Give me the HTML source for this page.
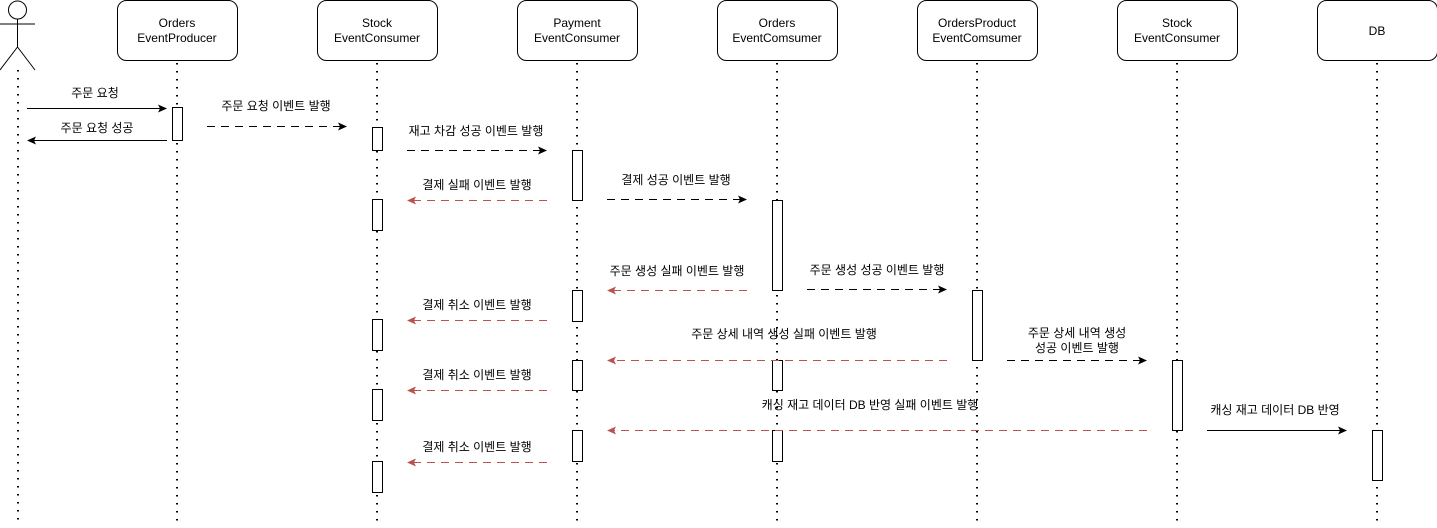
<!DOCTYPE html>
<html><head><meta charset="utf-8"><style>
html,body{margin:0;padding:0;background:#fff;}
svg text{font-family:"Liberation Sans","Noto Sans CJK KR",sans-serif;font-size:12px;fill:#000;text-anchor:middle;}
</style></head><body>
<svg width="1437" height="523" viewBox="0 0 1437 523" xmlns="http://www.w3.org/2000/svg">
<defs>
<marker id="ab" markerWidth="10" markerHeight="10" refX="8" refY="4" orient="auto" markerUnits="userSpaceOnUse"><path d="M0,0 L9,4 L0,8 L2,4 Z" fill="#000"/></marker>
<marker id="ar" markerWidth="10" markerHeight="10" refX="8" refY="4" orient="auto" markerUnits="userSpaceOnUse"><path d="M0,0 L9,4 L0,8 L2,4 Z" fill="#b85450"/></marker>
</defs>
<g stroke="#000" fill="none" stroke-width="1">
<circle cx="17.5" cy="10" r="9"/>
<line x1="17.5" y1="19" x2="17.5" y2="47"/>
<line x1="0" y1="24" x2="35" y2="24"/>
<line x1="17.5" y1="47" x2="0" y2="70"/>
<line x1="17.5" y1="47" x2="35" y2="70"/>
</g>
<g stroke="#000" stroke-width="2" stroke-dasharray="1.5 6.5">
<line x1="18" y1="70" x2="18" y2="523"/>
<line x1="177" y1="63" x2="177" y2="523"/>
<line x1="377" y1="63" x2="377" y2="523"/>
<line x1="577" y1="63" x2="577" y2="523"/>
<line x1="777" y1="63" x2="777" y2="523"/>
<line x1="977" y1="63" x2="977" y2="523"/>
<line x1="1177" y1="63" x2="1177" y2="523"/>
<line x1="1377" y1="63" x2="1377" y2="523"/>
</g>
<g stroke="#000" fill="#fff">
<rect x="117.5" y="0.5" width="120" height="60" rx="9"/>
<rect x="317.5" y="0.5" width="120" height="60" rx="9"/>
<rect x="517.5" y="0.5" width="120" height="60" rx="9"/>
<rect x="717.5" y="0.5" width="120" height="60" rx="9"/>
<rect x="917.5" y="0.5" width="120" height="60" rx="9"/>
<rect x="1117.5" y="0.5" width="120" height="60" rx="9"/>
<rect x="1317.5" y="0.5" width="120" height="60" rx="9"/>
</g>
<text x="177" y="27">Orders</text><text x="177" y="42">EventProducer</text>
<text x="377" y="27">Stock</text><text x="377" y="42">EventConsumer</text>
<text x="577" y="27">Payment</text><text x="577" y="42">EventConsumer</text>
<text x="777" y="27">Orders</text><text x="777" y="42">EventComsumer</text>
<text x="977" y="27">OrdersProduct</text><text x="977" y="42">EventComsumer</text>
<text x="1177" y="27">Stock</text><text x="1177" y="42">EventConsumer</text>
<text x="1377" y="35">DB</text>
<g stroke="#000" fill="#fff">
<rect x="172.5" y="107.5" width="10" height="33"/>
<rect x="372.5" y="127.5" width="10" height="23"/>
<rect x="372.5" y="199.5" width="10" height="31"/>
<rect x="372.5" y="319.5" width="10" height="31"/>
<rect x="372.5" y="389.5" width="10" height="31"/>
<rect x="372.5" y="461.5" width="10" height="31"/>
<rect x="572.5" y="150.5" width="10" height="50"/>
<rect x="572.5" y="290.5" width="10" height="31"/>
<rect x="572.5" y="360.5" width="10" height="30"/>
<rect x="572.5" y="430.5" width="10" height="31"/>
<rect x="772.5" y="200.5" width="10" height="90"/>
<rect x="772.5" y="360.5" width="10" height="30"/>
<rect x="772.5" y="430.5" width="10" height="31"/>
<rect x="972.5" y="290.5" width="10" height="70"/>
<rect x="1172.5" y="360.5" width="10" height="70"/>
<rect x="1372.5" y="430.5" width="10" height="50"/>
</g>
<g stroke-width="1" fill="none">
<line x1="27" y1="108.5" x2="166" y2="108.5" stroke="#000" marker-end="url(#ab)"/>
<line x1="167" y1="140.5" x2="28" y2="140.5" stroke="#000" marker-end="url(#ab)"/>
<line x1="207" y1="126.5" x2="346" y2="126.5" stroke="#000" stroke-dasharray="8 6" marker-end="url(#ab)"/>
<line x1="407" y1="150.5" x2="546" y2="150.5" stroke="#000" stroke-dasharray="8 6" marker-end="url(#ab)"/>
<line x1="547" y1="200.5" x2="408" y2="200.5" stroke="#b85450" stroke-dasharray="8 6" marker-end="url(#ar)"/>
<line x1="607" y1="199.5" x2="746" y2="199.5" stroke="#000" stroke-dasharray="8 6" marker-end="url(#ab)"/>
<line x1="747" y1="290.5" x2="608" y2="290.5" stroke="#b85450" stroke-dasharray="8 6" marker-end="url(#ar)"/>
<line x1="807" y1="289.5" x2="946" y2="289.5" stroke="#000" stroke-dasharray="8 6" marker-end="url(#ab)"/>
<line x1="547" y1="320.5" x2="408" y2="320.5" stroke="#b85450" stroke-dasharray="8 6" marker-end="url(#ar)"/>
<line x1="947" y1="360.5" x2="608" y2="360.5" stroke="#b85450" stroke-dasharray="8 6" marker-end="url(#ar)"/>
<line x1="1007" y1="360.5" x2="1146" y2="360.5" stroke="#000" stroke-dasharray="8 6" marker-end="url(#ab)"/>
<line x1="547" y1="390.5" x2="408" y2="390.5" stroke="#b85450" stroke-dasharray="8 6" marker-end="url(#ar)"/>
<line x1="1147" y1="430.5" x2="608" y2="430.5" stroke="#b85450" stroke-dasharray="8 6" marker-end="url(#ar)"/>
<line x1="1207" y1="430.5" x2="1346" y2="430.5" stroke="#000" marker-end="url(#ab)"/>
<line x1="547" y1="462.5" x2="408" y2="462.5" stroke="#b85450" stroke-dasharray="8 6" marker-end="url(#ar)"/>
</g>
<text x="95" y="97">주문 요청</text>
<text x="97" y="132">주문 요청 성공</text>
<text x="276" y="110">주문 요청 이벤트 발행</text>
<text x="476" y="135">재고 차감 성공 이벤트 발행</text>
<text x="477" y="189">결제 실패 이벤트 발행</text>
<text x="676" y="184">결제 성공 이벤트 발행</text>
<text x="677" y="275">주문 생성 실패 이벤트 발행</text>
<text x="877" y="274">주문 생성 성공 이벤트 발행</text>
<text x="477" y="309">결제 취소 이벤트 발행</text>
<text x="784" y="338">주문 상세 내역 생성  실패 이벤트 발행</text>
<text x="1077" y="337">주문 상세 내역 생성</text>
<text x="1077" y="352">성공 이벤트 발행</text>
<text x="477" y="379">결제 취소 이벤트 발행</text>
<text x="870" y="409">캐싱 재고 데이터 DB 반영 실패 이벤트 발행</text>
<text x="1275" y="414">캐싱 재고 데이터 DB 반영</text>
<text x="477" y="451">결제 취소 이벤트 발행</text>
</svg>
</body></html>
